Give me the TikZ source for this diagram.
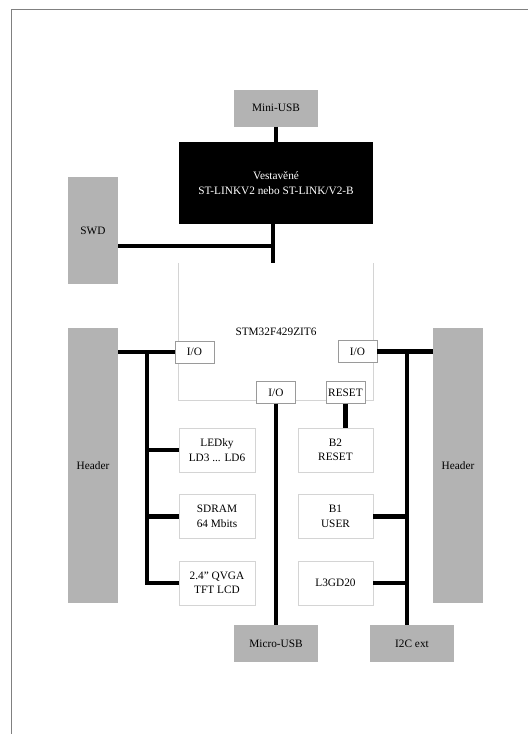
\documentclass[tikz,border=0pt]{standalone}
\usepackage{fontspec}
\setmainfont{Liberation Serif}
\usetikzlibrary{positioning,calc}
\definecolor{boxgray}{HTML}{B3B3B3}
\definecolor{edgegray}{HTML}{D4D4D4}
\definecolor{portgray}{HTML}{9A9A9A}
\definecolor{framegray}{HTML}{808080}
\tikzset{
  graybox/.style={fill=boxgray, align=center, inner sep=2pt},
  modbox/.style={draw=edgegray, fill=white, align=center, minimum width=76pt, minimum height=44pt, inner sep=2pt},
  portbox/.style={draw=portgray, fill=white, minimum width=39pt, minimum height=22pt, inner sep=1pt},
  bus/.style={line width=4.5pt, draw=black}
}

\begin{document}
\begin{tikzpicture}[x=1pt, y=-1pt, node distance=22pt, font=\fontsize{11.3}{14.5}\selectfont]
  \useasboundingbox (0,0) rectangle (528,734);
  \draw[framegray, line width=1pt] (11,734) -- (11,9) -- (528,9);

  % programmer part
  \node[graybox, minimum width=84pt, minimum height=37pt] (miniusb) at (276,108) {Mini-USB};
  \node[fill=black, text=white, align=center, minimum width=194pt, minimum height=82pt] (stlink) at (276,183) {Vestavěné\\ST-LINKV2 nebo ST-LINK/V2-B};
  \node[graybox, minimum width=50pt, minimum height=107pt] (swd) at (93,230.5) {SWD};

  % MCU
  \node[minimum width=194pt, minimum height=137pt] (mcu) at (276,331.5) {STM32F429ZIT6};
  \draw[edgegray, thick] (mcu.north west) -- (mcu.south west) -- (mcu.south east) -- (mcu.north east);
  \node[portbox] (lio) at (194.5,352) {I/O};
  \node[portbox] (rio) at (357.5,351.5) {I/O};
  \node[portbox] (bio) at (276,392.5) {I/O};
  \node[portbox] (rst) at (345.5,392.5) {RESET};

  % headers
  \node[graybox, minimum width=50pt, minimum height=275pt] (lhead) at (93,465.5) {Header};
  \node[graybox, minimum width=50pt, minimum height=275pt] (rhead) at (458,465.5) {Header};

  % peripherals
  \node[modbox] (led) at (217,450) {LEDky\\LD3 ... LD6};
  \node[modbox, below=of led] (sdram) {SDRAM\\64 Mbits};
  \node[modbox, below=of sdram] (lcd) {2.4" QVGA\\TFT LCD};
  \node[modbox, minimum width=75pt] (b2) at (335.5,450) {B2\\RESET};
  \node[modbox, minimum width=75pt, below=of b2] (b1) {B1\\USER};
  \node[modbox, minimum width=75pt, below=of b1] (l3g) {L3GD20};
  \node[graybox, minimum width=84pt, minimum height=37pt] (microusb) at (276,643.5) {Micro-USB};
  \node[graybox, minimum width=84pt, minimum height=37pt] (i2c) at (412,643.5) {I2C ext};

  % buses
  \coordinate (swdtap) at (273,246);
  \coordinate (lbus) at (147,0);
  \coordinate (rbus) at (407,0);
  \draw[bus] (miniusb) -- (stlink);
  \draw[bus] (swdtap |- stlink.south) -- (swdtap |- mcu.north);
  \draw[bus] (swd.east |- swdtap) -- (swdtap);
  \draw[bus] (lhead.east |- lio.west) -- (lio.west);
  \draw[bus] (lbus |- lio.west) -- (lbus |- lcd.west) -- (lcd.west);
  \draw[bus] (lbus |- led.west) -- (led.west);
  \draw[bus] (lbus |- sdram.west) -- (sdram.west);
  \draw[bus] (rio.east) -- (rhead.west |- rio.east);
  \draw[bus] (rbus |- rio.east) -- (rbus |- i2c.north);
  \draw[bus] (b1.east) -- (rbus |- b1.east);
  \draw[bus] (l3g.east) -- (rbus |- l3g.east);
  \draw[bus] (bio) -- (microusb);
  \draw[bus] (rst.south) -- (rst.south |- b2.north);
\end{tikzpicture}
\end{document}
